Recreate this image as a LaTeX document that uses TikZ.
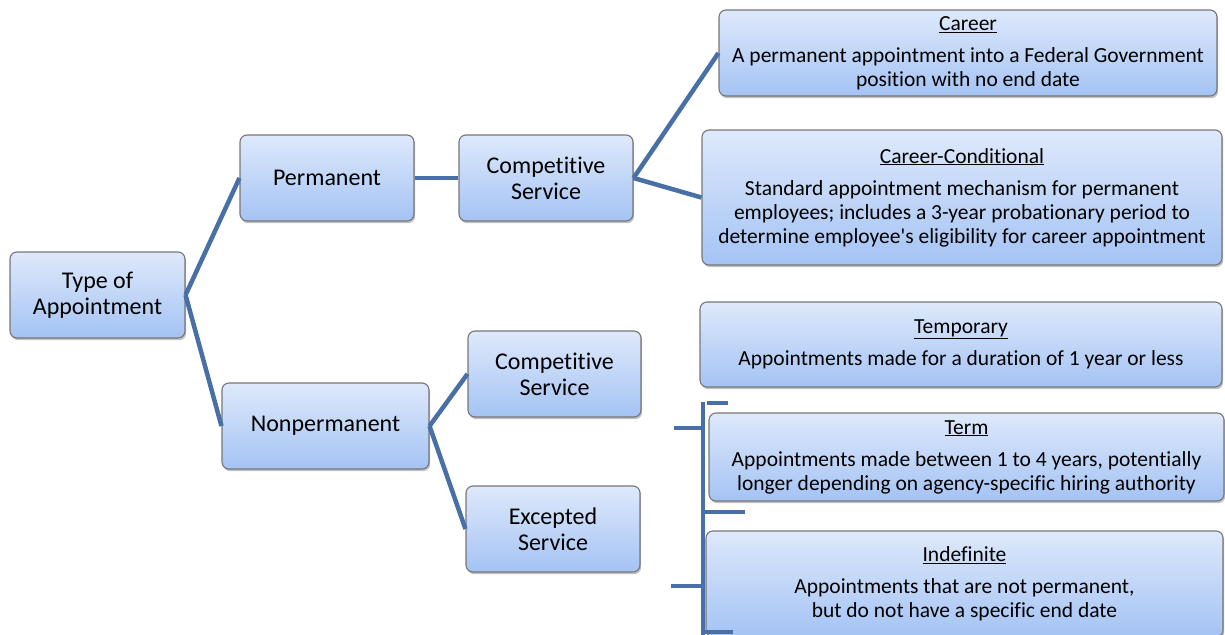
\documentclass[tikz,border=0pt]{standalone}
\usepackage{fontspec}
\setmainfont{Carlito}[Ligatures={TeX,NoCommon}]
\usetikzlibrary{shadows}
\definecolor{conn}{RGB}{72,112,166}
\definecolor{boxtop}{RGB}{222,233,251}
\definecolor{boxbot}{RGB}{164,195,244}
\definecolor{boxline}{RGB}{118,118,118}
\begin{document}
\begin{tikzpicture}[x=1pt,y=-1pt,
  box/.style={draw=boxline, line width=1.1pt, rounded corners=7pt,
    top color=boxtop, bottom color=boxbot, inner sep=0pt, align=center,
    drop shadow={shadow xshift=1.2pt, shadow yshift=-2.2pt, opacity=0.35, fill=black!70}},
  lbox/.style={box, font=\fontsize{24}{26}\selectfont},
  rbox/.style={box, font=\fontsize{21.5}{24}\selectfont},
  link/.style={draw=conn, line width=4.5pt},
  brk/.style={draw=conn, line width=4pt}]
\useasboundingbox (0,0) rectangle (1225,634);
\clip (0,0) rectangle (1225,634);

% left column
\node[lbox, minimum width=175pt, minimum height=86pt] (toa) at (97.5,295) {Type of\\Appointment};
\node[lbox, minimum width=174pt, minimum height=86pt] (perm) at (327,178) {Permanent};
\node[lbox, minimum width=207pt, minimum height=86pt] (nonp) at (325.5,426) {Nonpermanent};
\node[lbox, minimum width=174pt, minimum height=86pt] (cs1) at (546,178) {Competitive\\Service};
\node[lbox, minimum width=173pt, minimum height=86pt] (cs2) at (554.5,374) {Competitive\\Service};
\node[lbox, minimum width=174pt, minimum height=86pt] (exc) at (553,529) {Excepted\\Service};

% right column
\node[rbox, minimum width=498pt, minimum height=86pt] (career) at (968,53)
  {\underline{Career}\\[8pt]A permanent appointment into a Federal Government\\position with no end date};
\node[rbox, minimum width=520pt, minimum height=135pt] (cc) at (962,197.5)
  {\underline{Career-Conditional}\\[8pt]Standard appointment mechanism for permanent\\employees; includes a 3-year probationary period to\\determine employee\textquotesingle s eligibility for career appointment};
\node[rbox, minimum width=522pt, minimum height=85pt] (temp) at (961,344.5)
  {\underline{Temporary}\\[8pt]Appointments made for a duration of 1 year or less};
\node[rbox, minimum width=515pt, minimum height=88pt] (term) at (966.5,457)
  {\underline{Term}\\[8pt]Appointments made between 1 to 4 years, potentially\\longer depending on agency-specific hiring authority};
\node[rbox, minimum width=517pt, minimum height=106pt] (indef) at (964.5,584)
  {\underline{Indefinite}\\[8pt]Appointments that are not permanent,\\but do not have a specific end date};

% connectors
\draw[link] (toa.east) -- (perm.west);
\draw[link] (toa.east) -- (nonp.west);
\draw[link] (perm.east) -- (cs1.west);
\draw[link] (cs1.east) -- (career.west);
\draw[link] (cs1.east) -- (cc.west);
\draw[link] (nonp.east) -- (cs2.west);
\draw[link] (nonp.east) -- (exc.west);

% bracket
\coordinate (bt) at (703,402);
\coordinate (bb) at (703,640);
\draw[brk] (bt) -- (bb);
\draw[brk] (707,403) -- (728,403);
\draw[brk] (674,428) -- (703,428);
\draw[brk] (703,512) -- (745,512);
\draw[brk] (671,586) -- (703,586);
\draw[brk] (703,632) -- (733,632);
\end{tikzpicture}
\end{document}
